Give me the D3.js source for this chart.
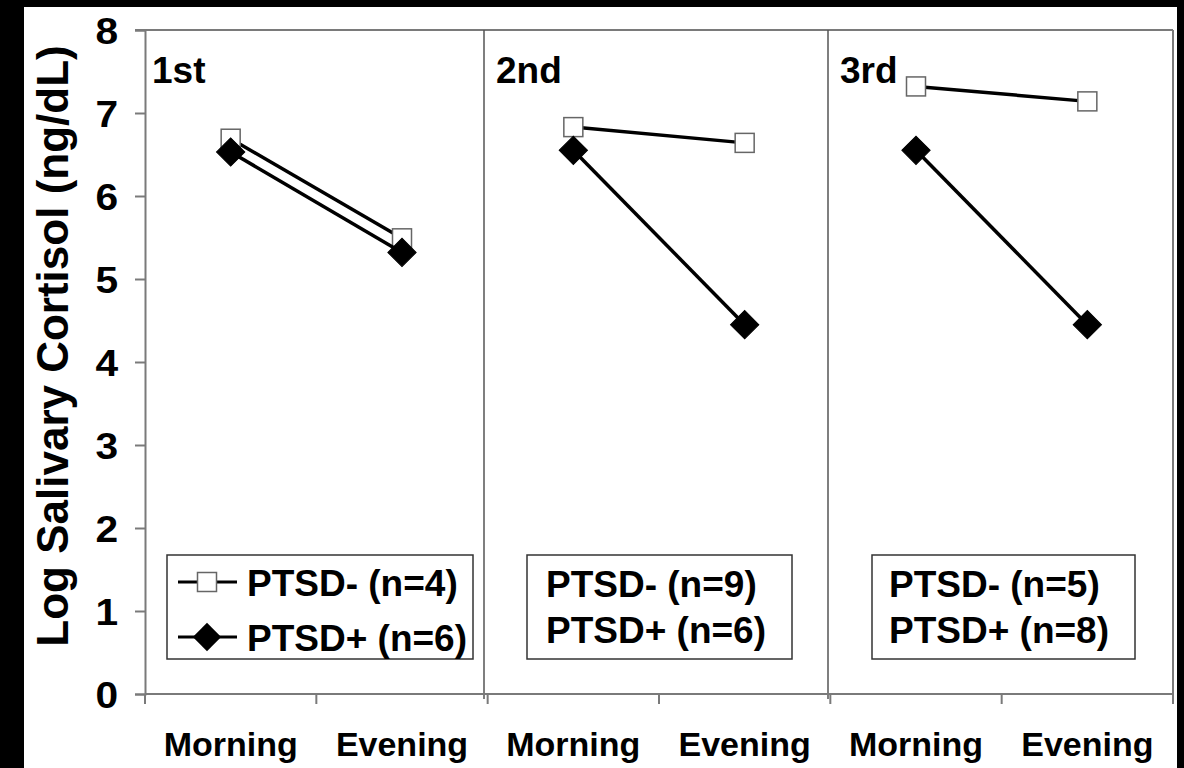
<!DOCTYPE html>
<html>
<head>
<meta charset="utf-8">
<script src="https://cdn.jsdelivr.net/npm/d3@7"></script>
<style>
  html, body { margin: 0; padding: 0; background: #000; }
  svg { display: block; }
  text { font-family: "Liberation Sans", Arial, sans-serif; font-weight: bold; fill: #000; }
</style>
</head>
<body>
<svg id="chart" width="1184" height="768"></svg>
<script>
// ---- data ----
const categories = ["Morning", "Evening", "Morning", "Evening", "Morning", "Evening"];
const panelLabels = ["1st", "2nd", "3rd"];
const ptsdNeg = [6.69, 5.49, 6.83, 6.64, 7.32, 7.14];
const ptsdPos = [6.53, 5.32, 6.55, 4.45, 6.55, 4.45];
const nNeg = [4, 9, 5];
const nPos = [6, 6, 8];
const yTicks = [0, 1, 2, 3, 4, 5, 6, 7, 8];
const yTitle = "Log Salivary Cortisol (ng/dL)";

// ---- layout ----
const W = 1184, H = 768;
const pLeft = 145, pRight = 1173, pTop = 30, pBottom = 694;
const svg = d3.select("#chart");

svg.append("rect").attr("x", 24).attr("y", 7).attr("width", 1177 - 24).attr("height", H - 7).attr("fill", "#fff");

const x = d3.scaleBand().domain(d3.range(categories.length)).range([pLeft, pRight]).padding(0);
const y = d3.scaleLinear().domain([0, 8]).range([pBottom, pTop]);
const axisColor = "#7a7a7a";

// frame top & right
svg.append("line").attr("x1", pLeft - 10).attr("x2", pRight).attr("y1", pTop).attr("y2", pTop)
  .attr("stroke", axisColor).attr("stroke-width", 2);
svg.append("line").attr("x1", pRight).attr("x2", pRight).attr("y1", pTop).attr("y2", pBottom)
  .attr("stroke", axisColor).attr("stroke-width", 2);

// panel dividers
const dividers = [484, 828];
dividers.forEach(d => {
  svg.append("line").attr("x1", d).attr("x2", d).attr("y1", pTop).attr("y2", pBottom + 5)
    .attr("stroke", "#555").attr("stroke-width", 1.5);
});

// y axis
const yAxis = d3.axisLeft(y).tickValues(yTicks).tickSize(10).tickPadding(17).tickFormat(d3.format("d"));
const gy = svg.append("g").attr("transform", `translate(${pLeft},0)`).call(yAxis);
gy.attr("font-size", 37).attr("font-family", "'Liberation Sans', Arial, sans-serif");
gy.select(".domain").attr("stroke", axisColor).attr("stroke-width", 2);
gy.selectAll(".tick line").attr("stroke", axisColor).attr("stroke-width", 2);
const stretch = 1.1;
gy.selectAll(".tick text").attr("font-size", 37).style("font-size", "37px").attr("dy", "0.36em")
  .attr("x", -27 / stretch).attr("transform", `scale(${stretch},1)`)
  .style("font-weight", "bold").attr("fill", "#000");

// x axis (ticks at category boundaries)
const bounds = d3.range(categories.length + 1).map(i => pLeft + i * x.bandwidth());
svg.append("line").attr("x1", pLeft).attr("x2", pRight).attr("y1", pBottom).attr("y2", pBottom)
  .attr("stroke", axisColor).attr("stroke-width", 2);
svg.selectAll(".xtick").data(bounds).enter().append("line")
  .attr("x1", d => d).attr("x2", d => d).attr("y1", pBottom).attr("y2", pBottom + 10)
  .attr("stroke", axisColor).attr("stroke-width", 2);
svg.selectAll(".xlab").data(categories).enter().append("text")
  .attr("x", (d, i) => x(i) + x.bandwidth() / 2).attr("y", 756)
  .attr("text-anchor", "middle").style("font-size", "34px").text(d => d);

// y title
svg.append("text").attr("transform", `translate(68,346) rotate(-90)`)
  .attr("text-anchor", "middle").style("font-size", "44px").text(yTitle);

// panel labels
const panelLabelX = [152, 496, 840];
panelLabels.forEach((p, i) => {
  svg.append("text").attr("x", panelLabelX[i]).attr("y", 83).style("font-size", "37px").text(p);
});

// series
const cx = i => x(i) + x.bandwidth() / 2;
const sq = 19;
const diamond = d3.symbol().type(d3.symbolSquare).size(20 * 20);
function drawSeries(vals, kind) {
  for (let p = 0; p < 3; p++) {
    const i0 = p * 2, i1 = p * 2 + 1;
    svg.append("line").attr("x1", cx(i0)).attr("y1", y(vals[i0])).attr("x2", cx(i1)).attr("y2", y(vals[i1]))
      .attr("stroke", "#000").attr("stroke-width", 3.5);
  }
  vals.forEach((v, i) => {
    if (kind === "sq") {
      svg.append("rect").attr("x", cx(i) - sq / 2).attr("y", y(v) - sq / 2).attr("width", sq).attr("height", sq)
        .attr("fill", "#fff").attr("stroke", "#666").attr("stroke-width", 1.5);
    } else {
      svg.append("path").attr("d", diamond()).attr("transform", `translate(${cx(i)},${y(v)}) rotate(45)`)
        .attr("fill", "#000").attr("stroke", "#000").attr("stroke-width", 1);
    }
  });
}
drawSeries(ptsdNeg, "sq");
drawSeries(ptsdPos, "dm");

// legends
const boxes = [
  { x0: 167, x1: 473, textX: 247, b1: 596, b2: 651, markers: true },
  { x0: 527, x1: 792, textX: 546, b1: 597, b2: 643, markers: false },
  { x0: 872, x1: 1135, textX: 889, b1: 597, b2: 643, markers: false }
];
boxes.forEach((b, i) => {
  svg.append("rect").attr("x", b.x0).attr("y", 555).attr("width", b.x1 - b.x0).attr("height", 659 - 555)
    .attr("fill", "#fff").attr("stroke", "#333").attr("stroke-width", 1.5);
  svg.append("text").attr("x", b.textX).attr("y", b.b1).style("font-size", "37px").text(`PTSD- (n=${nNeg[i]})`);
  svg.append("text").attr("x", b.textX).attr("y", b.b2).style("font-size", "37px").text(`PTSD+ (n=${nPos[i]})`);
  if (b.markers) {
    const r1 = 582, r2 = 637;
    svg.append("line").attr("x1", 178).attr("x2", 237).attr("y1", r1).attr("y2", r1).attr("stroke", "#000").attr("stroke-width", 3);
    svg.append("rect").attr("x", 207 - sq / 2).attr("y", r1 - sq / 2).attr("width", sq).attr("height", sq)
      .attr("fill", "#fff").attr("stroke", "#666").attr("stroke-width", 1.5);
    svg.append("line").attr("x1", 178).attr("x2", 237).attr("y1", r2).attr("y2", r2).attr("stroke", "#000").attr("stroke-width", 3);
    svg.append("path").attr("d", diamond()).attr("transform", `translate(207,${r2}) rotate(45)`).attr("fill", "#000");
  }
});
</script>
</body>
</html>
